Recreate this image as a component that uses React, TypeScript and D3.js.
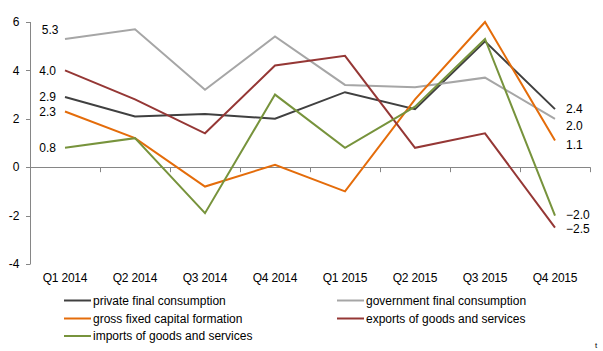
import React from "react";
import * as d3 from "d3";

const categories = ["Q1 2014", "Q2 2014", "Q3 2014", "Q4 2014", "Q1 2015", "Q2 2015", "Q3 2015", "Q4 2015"];
const privateCons = [2.9, 2.1, 2.2, 2.0, 3.1, 2.4, 5.2, 2.4];
const govCons = [5.3, 5.7, 3.2, 5.4, 3.4, 3.3, 3.7, 2.0];
const gfcf = [2.3, 1.2, -0.8, 0.1, -1.0, 2.8, 6.0, 1.1];
const exportsGS = [4.0, 2.8, 1.4, 4.2, 4.6, 0.8, 1.4, -2.5];
const importsGS = [0.8, 1.2, -1.9, 3.0, 0.8, 2.5, 5.3, -2.0];
const yTicks = [-4, -2, 0, 2, 4, 6];

const seriesNames = [
  "private final consumption",
  "government final consumption",
  "gross fixed capital formation",
  "exports of goods and services",
  "imports of goods and services",
];
const seriesValues = [privateCons, govCons, gfcf, exportsGS, importsGS];
const colors = ["#404040", "#a6a6a6", "#e46c0a", "#953735", "#77933c"];

// label nudges (layout only)
const firstLabelDy = [0, -9, 0, 0, 0];
const lastLabelDy = [0, 6.5, 4, 1.2, -1.2];

export default function App() {
  const W = 603, H = 351;
  const x = d3.scaleBand<string>().domain(categories).range([30, 590]);
  const y = d3.scaleLinear().domain([-4, 6]).range([264, 22]);
  const line = d3
    .line<number>()
    .x((_, i) => (x(categories[i]) as number) + x.bandwidth() / 2)
    .y((d) => y(d));
  const font = "'Liberation Sans', Arial, sans-serif";
  const axisColor = "#868686";
  const fmt = d3.format(".1f");
  const legendPos = [
    [64, 300.5],
    [337, 300.5],
    [64, 318.5],
    [337, 318.5],
    [64, 336],
  ];
  const bounds = [...categories.map((c) => x(c) as number), 590];
  return (
    <svg
      width={W}
      height={H}
      style={{ position: "absolute", left: 0, top: 0, background: "#fff" }}
      fontFamily={font}
    >
      {/* y axis */}
      <line x1={30.5} x2={30.5} y1={y(6)} y2={y(-4)} stroke={axisColor} />
      {yTicks.map((t) => (
        <g key={t}>
          <line x1={26} x2={30.5} y1={Math.round(y(t)) + 0.5} y2={Math.round(y(t)) + 0.5} stroke={axisColor} />
          <text x={19.5} y={y(t)} dy="0.35em" textAnchor="end" fontSize={12} fill="#000">
            {t}
          </text>
        </g>
      ))}
      {/* x axis at 0 */}
      <line x1={30} x2={590} y1={Math.round(y(0)) + 0.5} y2={Math.round(y(0)) + 0.5} stroke={axisColor} />
      {bounds.map((b, i) => (
        <line key={i} x1={b + 0.5} x2={b + 0.5} y1={y(0)} y2={y(0) + 5} stroke={axisColor} />
      ))}
      {categories.map((c) => (
        <text
          key={c}
          x={(x(c) as number) + x.bandwidth() / 2}
          y={277.5}
          dy="0.35em"
          textAnchor="middle"
          fontSize={12}
          letterSpacing={-0.2}
          fill="#000"
        >
          {c}
        </text>
      ))}
      {/* lines */}
      {seriesValues.map((vals, si) => (
        <path key={si} d={line(vals) || ""} fill="none" stroke={colors[si]} strokeWidth={2} />
      ))}
      {/* labels */}
      {seriesValues.map((vals, si) => (
        <g key={"l" + si}>
          <text
            x={si === 1 ? 58.5 : 56}
            y={y(vals[0]) + firstLabelDy[si]}
            dy="0.35em"
            textAnchor="end"
            fontSize={12}
            fill="#000"
          >
            {fmt(vals[0])}
          </text>
          <text
            x={566}
            y={y(vals[vals.length - 1]) + lastLabelDy[si]}
            dy="0.35em"
            textAnchor="start"
            fontSize={12}
            fill="#000"
          >
            {fmt(vals[vals.length - 1])}
          </text>
        </g>
      ))}
      {/* legend */}
      {seriesNames.map((n, i) => (
        <g key={n}>
          <line
            x1={legendPos[i][0]}
            x2={legendPos[i][0] + 27}
            y1={legendPos[i][1]}
            y2={legendPos[i][1]}
            stroke={colors[i]}
            strokeWidth={2}
          />
          <text
            x={legendPos[i][0] + 29}
            y={legendPos[i][1]}
            dy="0.35em"
            fontSize={12}
            fill="#000"
          >
            {n}
          </text>
        </g>
      ))}
      <text x={595} y={348} fontSize={8} fill="#000">
        t
      </text>
    </svg>
  );
}
